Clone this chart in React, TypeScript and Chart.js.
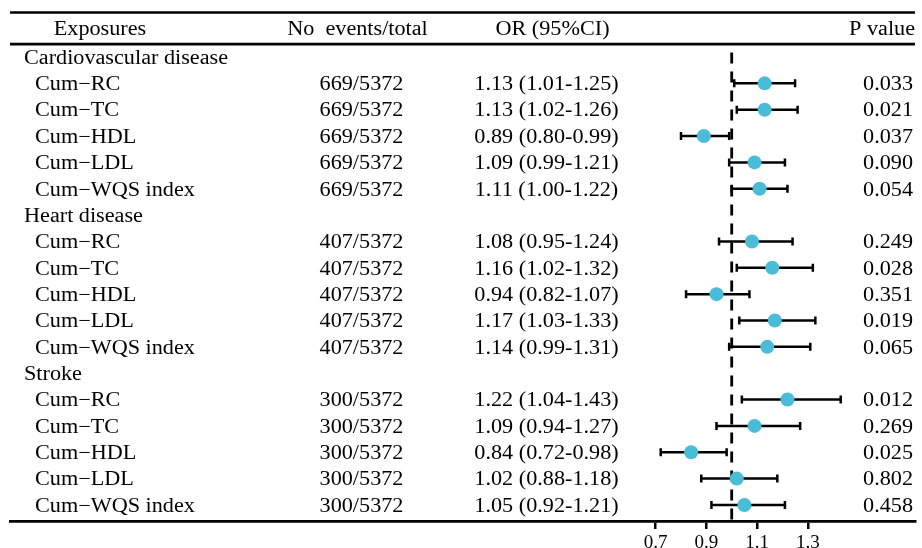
import React, { useEffect, useRef } from "react";
import { Chart, registerables } from "chart.js";

Chart.register(...registerables);

const GROUPS = ["Cardiovascular disease", "Heart disease", "Stroke"];
const EXPOSURES = ["Cum\u2212RC", "Cum\u2212TC", "Cum\u2212HDL", "Cum\u2212LDL", "Cum\u2212WQS index"];
const EVENTS = ["669/5372", "407/5372", "300/5372"];
const OR = [1.13, 1.13, 0.89, 1.09, 1.11, 1.08, 1.16, 0.94, 1.17, 1.14, 1.22, 1.09, 0.84, 1.02, 1.05];
const LOWER = [1.01, 1.02, 0.80, 0.99, 1.00, 0.95, 1.02, 0.82, 1.03, 0.99, 1.04, 0.94, 0.72, 0.88, 0.92];
const UPPER = [1.25, 1.26, 0.99, 1.21, 1.22, 1.24, 1.32, 1.07, 1.33, 1.31, 1.43, 1.27, 0.98, 1.18, 1.21];
const PVALUES = ["0.033", "0.021", "0.037", "0.090", "0.054", "0.249", "0.028", "0.351", "0.019", "0.065", "0.012", "0.269", "0.025", "0.802", "0.458"];
const X_TICKS = [0.7, 0.9, 1.1, 1.3];
const HEADERS = ["Exposures", "No  events/total", "OR (95%CI)", "P value"];
const REF_VALUE = 1;

const FONT = '"Liberation Serif", "Times New Roman", serif';
const DOT = "#49BCD8";

function rowIndex(g: number, k: number) {
  return g * (EXPOSURES.length + 1) + 1 + k;
}

export default function App() {
  const ref = useRef<HTMLCanvasElement | null>(null);

  useEffect(() => {
    const canvas = ref.current;
    if (!canvas) return;

    const points: { x: number; y: number }[] = [];
    const rows: number[] = [];
    GROUPS.forEach((_, g) => {
      EXPOSURES.forEach((_, k) => {
        const i = g * EXPOSURES.length + k;
        const r = rowIndex(g, k);
        rows.push(r);
        points.push({ x: OR[i], y: r });
      });
    });

    const TY = 1.5;
    const text = (ctx: CanvasRenderingContext2D, t: string, x: number, y: number, align: CanvasTextAlign) => {
      ctx.save();
      ctx.translate(x, y + TY);
      ctx.scale(1.11, 1);
      ctx.textAlign = align;
      ctx.textBaseline = "middle";
      ctx.fillText(t, 0, 0);
      ctx.restore();
    };

    const forestPlugin = {
      id: "forest",
      beforeDatasetsDraw(chart: any) {
        const ctx = chart.ctx as CanvasRenderingContext2D;
        const xs = chart.scales.x;
        const ys = chart.scales.y;
        ctx.save();
        ctx.strokeStyle = "#000";
        ctx.lineWidth = 2.5;
        rows.forEach((r, i) => {
          const y = ys.getPixelForValue(r);
          const x1 = xs.getPixelForValue(LOWER[i]);
          const x2 = xs.getPixelForValue(UPPER[i]);
          ctx.beginPath();
          ctx.moveTo(x1, y);
          ctx.lineTo(x2, y);
          ctx.stroke();
          ctx.beginPath();
          ctx.moveTo(x1, y - 4);
          ctx.lineTo(x1, y + 4);
          ctx.moveTo(x2, y - 4);
          ctx.lineTo(x2, y + 4);
          ctx.stroke();
        });
        ctx.restore();
      },
      afterDraw(chart: any) {
        const ctx = chart.ctx as CanvasRenderingContext2D;
        const ys = chart.scales.y;
        const area = chart.chartArea;
        ctx.save();
        ctx.strokeStyle = "#000";
        ctx.lineWidth = 2.7;
        const topY = ys.getPixelForValue(ys.min) - 0.5;
        const headY = ys.getPixelForValue(-0.49);
        ctx.beginPath();
        ctx.moveTo(area.left, topY);
        ctx.lineTo(area.right, topY);
        ctx.moveTo(area.left, headY);
        ctx.lineTo(area.right, headY);
        ctx.stroke();

        ctx.fillStyle = "#000";
        ctx.font = `20px ${FONT}`;
        const hy = ys.getPixelForValue(-1.09);
        text(ctx, HEADERS[0], 100, hy, "center");
        text(ctx, HEADERS[1], 357.5, hy, "center");
        text(ctx, HEADERS[2], 552.5, hy, "center");
        text(ctx, HEADERS[3], 915, hy, "right");

        GROUPS.forEach((gname, g) => {
          const gy = ys.getPixelForValue(g * (EXPOSURES.length + 1));
          text(ctx, gname, 24, gy, "left");
          EXPOSURES.forEach((e, k) => {
            const i = g * EXPOSURES.length + k;
            const y = ys.getPixelForValue(rowIndex(g, k));
            text(ctx, e, 35, y, "left");
            text(ctx, EVENTS[g], 361.5, y, "center");
            text(ctx, `${OR[i].toFixed(2)} (${LOWER[i].toFixed(2)}-${UPPER[i].toFixed(2)})`, 546.5, y, "center");
            text(ctx, PVALUES[i], 913, y, "right");
          });
        });
        ctx.restore();
      },
    };

    const totalRows = GROUPS.length * (EXPOSURES.length + 1);

    const chart = new Chart(canvas, {
      type: "scatter",
      data: {
        datasets: [
          {
            type: "scatter",
            data: points,
            backgroundColor: DOT,
            borderWidth: 0,
            pointRadius: 7,
            order: 1,
          },
          {
            type: "line",
            data: [
              { x: REF_VALUE, y: -0.17 },
              { x: REF_VALUE, y: totalRows - 0.39 },
            ],
            borderColor: "#000",
            borderWidth: 2.8,
            borderDash: [11, 8],
            pointRadius: 0,
            fill: false,
            order: 2,
          } as any,
        ],
      },
      options: {
        animation: false,
        responsive: false,
        events: [],
        layout: { padding: { left: 10, right: -4, top: 13, bottom: 0 } },
        plugins: { legend: { display: false }, tooltip: { enabled: false } },
        scales: {
          x: {
            type: "linear",
            min: -1.8469,
            max: 1.7507,
            afterBuildTicks: (s: any) => {
              s.ticks = X_TICKS.map((v) => ({ value: v }));
            },
            afterFit: (s: any) => {
              s.height = 27;
              s.paddingLeft = 0;
              s.paddingRight = 0;
            },
            grid: {
              drawOnChartArea: false,
              drawTicks: true,
              tickLength: 8,
              color: "#000",
              lineWidth: 2.5,
            },
            border: { display: true, color: "#000", width: 2.8 },
            ticks: {
              color: "#000",
              padding: 5,
              maxRotation: 0,
              autoSkip: false,
              font: { family: FONT, size: 19, lineHeight: 1 },
              callback: (v: any) => Number(v).toFixed(1),
            },
          },
          y: {
            type: "linear",
            display: false,
            reverse: true,
            min: -1.67,
            max: 17.609,
          },
        },
      },
      plugins: [forestPlugin],
    });

    // calibrate scale limits to the actual chart area
    const a = chart.chartArea;
    const pxPerX = 253.5;
    const xOne = 731.7;
    const pxPerRow = 26.35;
    const row0 = 57;
    const xo: any = chart.options.scales!.x;
    const yo: any = chart.options.scales!.y;
    xo.min = 1 - (xOne - a.left) / pxPerX;
    xo.max = 1 + (a.right - xOne) / pxPerX;
    yo.min = (a.top - row0) / pxPerRow;
    yo.max = (a.bottom - row0) / pxPerRow;
    chart.update();

    return () => chart.destroy();
  }, []);

  return (
    <div style={{ position: "absolute", left: 0, top: 0, width: 922, height: 548, background: "#fff" }}>
      <canvas ref={ref} width={922} height={548} style={{ display: "block" }} />
    </div>
  );
}
